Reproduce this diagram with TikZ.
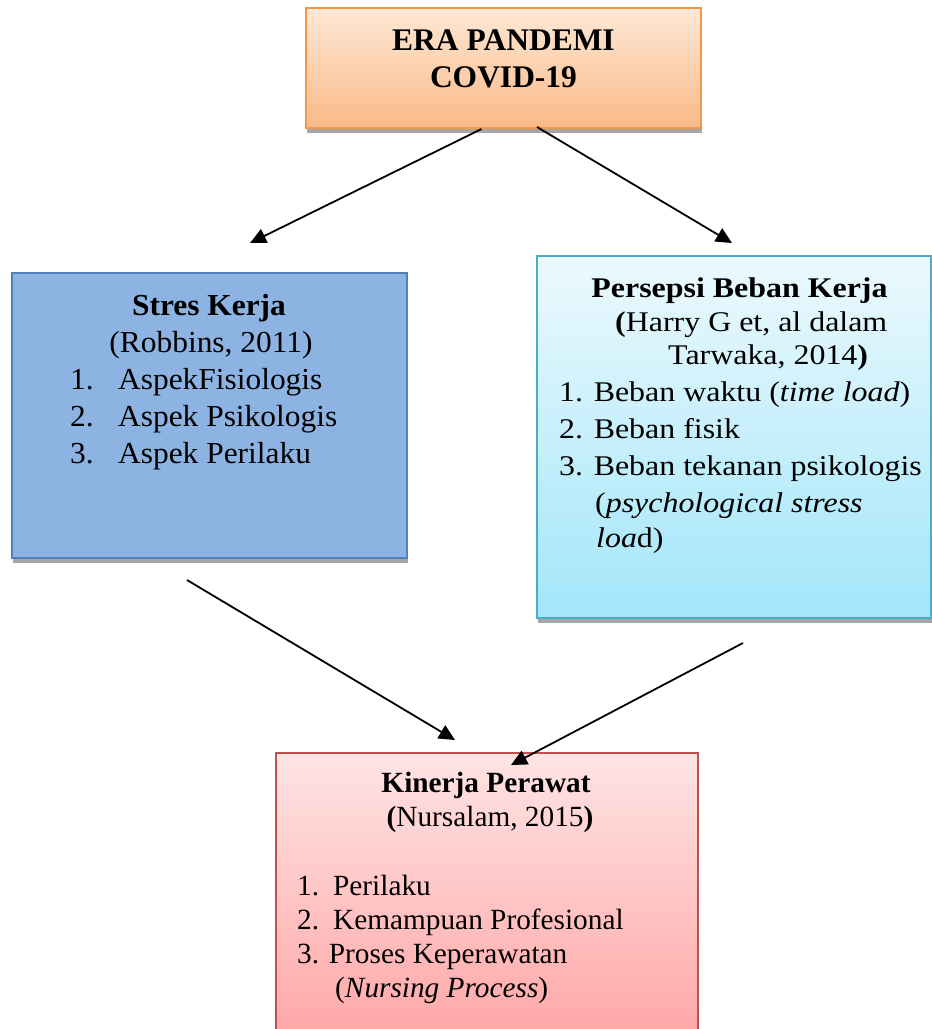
\documentclass[tikz,border=0pt]{standalone}
\usepackage{fontspec}
\setmainfont{Liberation Serif}
\newfontfamily\stretchR[FakeStretch=1.12]{Liberation Serif}
\newfontfamily\stretchL[FakeStretch=1.03]{Liberation Serif}
\usetikzlibrary{arrows.meta,shadows}
\definecolor{orbord}{HTML}{F79646}
\definecolor{ortop}{HTML}{FDE8D6}
\definecolor{orbot}{HTML}{FAB987}
\definecolor{blfill}{HTML}{8DB3E2}
\definecolor{blbord}{HTML}{4F81BD}
\definecolor{cybord}{HTML}{4BACC6}
\definecolor{cytop}{HTML}{ECF9FD}
\definecolor{cybot}{HTML}{A2E6FA}
\definecolor{rdbord}{HTML}{C0504D}
\definecolor{rdtop}{HTML}{FFE4E4}
\definecolor{rdbot}{HTML}{FFA5A5}
\definecolor{shadowgray}{HTML}{A6A6A6}
\begin{document}
\begin{tikzpicture}[x=1pt,y=-1pt,
  boxstyle/.style={rectangle, line width=1.6pt, inner sep=0pt,
    drop shadow={shadow xshift=1pt, shadow yshift=-5pt, fill=shadowgray, opacity=1}},
  conn/.style={-{Triangle[length=16pt,width=15pt]}, line width=1.8pt, black},
  ln/.style={anchor=base west, inner sep=0pt},
  lc/.style={anchor=base, inner sep=0pt},
  ftop/.style={font=\fontsize{31.5}{37}\selectfont\bfseries},
  fleft/.style={font=\stretchL\fontsize{30.5}{37}\selectfont},
  fright/.style={font=\stretchR\fontsize{28.5}{36}\selectfont},
  fbot/.style={font=\fontsize{29.3}{34}\selectfont}]
\useasboundingbox (0,0) rectangle (932,1029);

% boxes
\node[boxstyle, draw=orbord, top color=ortop, bottom color=orbot,
  minimum width=395pt, minimum height=120pt] (era) at (503.5,68) {};
\node[boxstyle, draw=blbord, fill=blfill,
  minimum width=395pt, minimum height=285pt] (stres) at (209.5,415.5) {};
\node[boxstyle, draw=cybord, top color=cytop, bottom color=cybot,
  minimum width=394pt, minimum height=362pt] (beban) at (734,437) {};
\node[boxstyle, draw=rdbord, top color=rdtop, bottom color=rdbot,
  minimum width=422pt, minimum height=292pt] (kinerja) at (487,899) {};

% top box text
\node[lc, ftop] (e1) at (503.5,50) {ERA PANDEMI};
\node[lc, ftop] (e2) at (503.5,87.3) {COVID-19};

% left box text
\node[lc, fleft] (s1) at (209,315) {\bfseries Stres Kerja};
\node[lc, fleft] (s2) at (211,352) {(Robbins, 2011)};
\node[ln, fleft] (s3) at (70,389) {\makebox[48pt][l]{1.}AspekFisiologis};
\node[ln, fleft] (s4) at (70,426) {\makebox[48pt][l]{2.}Aspek Psikologis};
\node[ln, fleft] (s5) at (70,463) {\makebox[48pt][l]{3.}Aspek Perilaku};

% right box text
\node[lc, fright] (b1) at (739.5,297) {\bfseries Persepsi Beban Kerja};
\node[ln, fright] (b2) at (615,331) {\textbf{(}Harry G et, al dalam};
\node[ln, fright] (b3) at (668,364) {Tarwaka, 2014\textbf{)}};
\node[ln, fright] (b4) at (559,401) {1. Beban waktu (\textit{time load})};
\node[ln, fright] (b5) at (559,438) {2. Beban fisik};
\node[ln, fright] (b6) at (559,475) {3. Beban tekanan psikologis};
\node[ln, fright] (b7) at (595,512) {(\textit{psychological stress}};
\node[ln, fright] (b8) at (596,547) {\textit{loa}d)};

% bottom box text
\node[lc, fbot] (k1) at (486,792) {\bfseries Kinerja Perawat};
\node[lc, fbot] (k2) at (490,826) {\textbf{(}Nursalam, 2015\textbf{)}};
\node[ln, fbot] (k3) at (297,895) {\makebox[36pt][l]{1.}Perilaku};
\node[ln, fbot] (k4) at (297,929) {\makebox[36pt][l]{2.}Kemampuan Profesional};
\node[ln, fbot] (k5) at (297,963) {3. Proses Keperawatan};
\node[ln, fbot] (k6) at (335,997) {(\textit{Nursing Process})};

% connectors (free-floating in the reference)
\coordinate (a1s) at (481.5,129);
\coordinate (a1e) at (250,243);
\coordinate (a2s) at (537,127);
\coordinate (a2e) at (732,243);
\coordinate (a3s) at (187,580);
\coordinate (a3e) at (455,740);
\coordinate (a4s) at (743,643);
\coordinate (a4e) at (511,765);
\draw[conn] (a1s) -- (a1e);
\draw[conn] (a2s) -- (a2e);
\draw[conn] (a3s) -- (a3e);
\draw[conn] (a4s) -- (a4e);
\end{tikzpicture}
\end{document}
